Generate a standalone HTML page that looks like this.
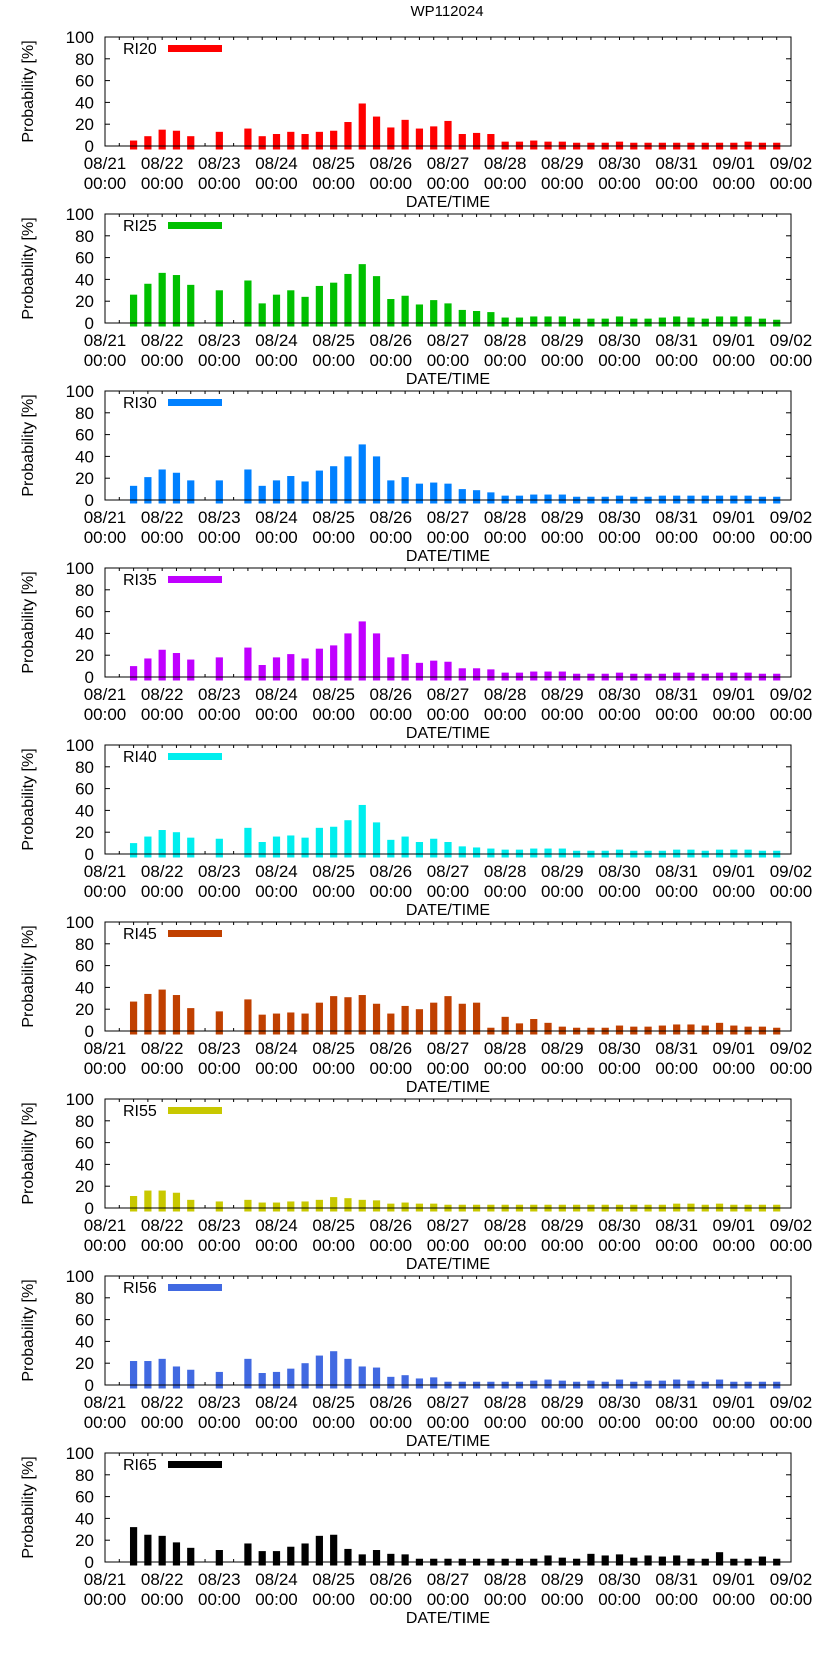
<!DOCTYPE html>
<html><head><meta charset="utf-8">
<style>
html,body{margin:0;padding:0;background:#fff;}
svg{display:block;font-family:"Liberation Sans",sans-serif;}
</style></head>
<body>
<svg id="chart" width="822" height="1653" viewBox="0 0 822 1653" xmlns="http://www.w3.org/2000/svg">
<text x="447" y="16" text-anchor="middle" font-size="15">WP112024</text>
</svg>
<script>
const dayLabels = ["08/21","08/22","08/23","08/24","08/25","08/26","08/27","08/28","08/29","08/30","08/31","09/01","09/02"];
const yTicks = [0,20,40,60,80,100];
const seriesNames = ["RI20","RI25","RI30","RI35","RI40","RI45","RI55","RI56","RI65"];
const seriesColors = ["#ff0000","#00c000","#0080ff","#c000ff","#00eeee","#c04000","#c8c800","#4169e1","#000000"];
const firstSlotDay = 0.5;
const slotStepDay = 0.25;
const ri20 = [5,9,15,14,9,null,13,null,16,9,11,13,11,13,14,22,39,27,17,24,16,18,23,11,12,11,4,4,5,4,4,3,3,3,4,3,3,3,3,3,3,3,3,4,3,3];
const ri25 = [26,36,46,44,35,null,30,null,39,18,26,30,24,34,37,45,54,43,22,25,17,21,18,12,11,10,5,5,6,6,6,4,4,4,6,4,4,5,6,5,4,6,6,6,4,3];
const ri30 = [13,21,28,25,18,null,18,null,28,13,18,22,17,27,31,40,51,40,18,21,15,16,15,10,9,7,4,4,5,5,5,3,3,3,4,3,3,4,4,4,4,4,4,4,3,3];
const ri35 = [10,17,25,22,16,null,18,null,27,11,18,21,17,26,29,40,51,40,18,21,13,15,14,8,8,7,4,4,5,5,5,3,3,3,4,3,3,3,4,4,3,4,4,4,3,3];
const ri40 = [10,16,22,20,15,null,14,null,24,11,16,17,15,24,25,31,45,29,13,16,11,14,11,7,6,5,4,4,5,5,5,3,3,3,4,3,3,3,4,4,3,4,4,4,3,3];
const ri45 = [27,34,38,33,21,null,18,null,29,15,16,17,16,26,32,31,33,25,16,23,20,26,32,25,26,3,13,7,11,7.5,4,3,3,3,5,4,4,5,6,6,5,7.5,5,4,4,3];
const ri55 = [11,16,16,14,7.5,null,6,null,7.5,5,5,6,6,7.5,10,9,7.5,7,4,5,4,4,3,3,3,3,3,3,3,3,3,3,3,3,3,3,3,3,4,4,3,4,3,3,3,3];
const ri56 = [22,22,24,17,14,null,12,null,24,11,12,15,20,27,31,24,17,16,7.5,9,6,7,3,3,3,3,3,3,4,5,4,3,4,3,5,3,4,4,5,4,3,5,3,3,3,3];
const ri65 = [32,25,24,18,13,null,11,null,17,10,10,14,17,24,25,12,7,11,7.5,7,3,3,3,3,3,3,3,3,3,6,4,3,7.5,6,7,4,6,5,6,3,3,9,3,3,5,3];
const allSeries = [ri20,ri25,ri30,ri35,ri40,ri45,ri55,ri56,ri65];

const NS = "http://www.w3.org/2000/svg";
const svg = document.getElementById("chart");
const X0 = 105, X1 = 791, PANEL_TOP = 37, PANEL_H = 109, PANEL_GAP = 177;
const nDays = dayLabels.length - 1;
function xScale(day){ return X0 + day*(X1-X0)/nDays; }
function mk(tag, attrs, parent){
  const el = document.createElementNS(NS, tag);
  for (const k in attrs) el.setAttribute(k, attrs[k]);
  (parent||svg).appendChild(el);
  return el;
}
allSeries.forEach(function(vals, k){
  const top = PANEL_TOP + k*PANEL_GAP, bot = top + PANEL_H;
  const yScale = v => bot - v*PANEL_H/100;
  const g = mk("g", {});
  
  
  // minor x ticks every 6h (under bars)
  for (let d=0; d<=nDays; d+=0.25){
    const x = xScale(d);
    mk("line", {x1:x, x2:x, y1:top, y2:top+3, stroke:"#000", "stroke-width":1}, g);
    mk("line", {x1:x, x2:x, y1:bot, y2:bot-3, stroke:"#000", "stroke-width":1}, g);
  }
  // bars
  vals.forEach(function(v, i){
    if (v === null) return;
    const cx = xScale(firstSlotDay + i*slotStepDay);
    const y = yScale(v);
    const r = mk("rect", {x:(cx-3.6).toFixed(2), y:y.toFixed(2), width:7.2, height:(bot+3.5-y).toFixed(2), fill:seriesColors[k]}, g);
    
    
  });
  // frame
  const fr = mk("rect", {x:X0, y:top, width:X1-X0, height:PANEL_H, fill:"none", stroke:"#000", "stroke-width":1}, g);
  
  
  // y ticks + labels
  yTicks.forEach(function(t){
    const y = yScale(t);
    mk("line", {x1:X0, x2:X0+5, y1:y, y2:y, stroke:"#000"}, g);
    mk("line", {x1:X1, x2:X1-5, y1:y, y2:y, stroke:"#000"}, g);
    const tl = mk("text", {x:94, y:y+6, "text-anchor":"end", "font-size":17}, g);
    tl.textContent = t;
    
    
  });
  // x labels
  dayLabels.forEach(function(lab, d){
    const x = xScale(d);
    const t1 = mk("text", {x:x, y:bot+23, "text-anchor":"middle", "font-size":17}, g);
    t1.textContent = lab;
    
    
    const t2 = mk("text", {x:x, y:bot+43, "text-anchor":"middle", "font-size":17}, g);
    t2.textContent = "00:00";
    
    
  });
  const xt = mk("text", {x:448, y:bot+61, "text-anchor":"middle", "font-size":16}, g);
  xt.textContent = "DATE/TIME";
  
  
  const cy = (top+bot)/2;
  const yt = mk("text", {x:0, y:0, "text-anchor":"middle", "font-size":16, transform:"translate(33,"+cy+") rotate(-90)"}, g);
  yt.textContent = "Probability [%]";
  
  
  // legend
  const lt = mk("text", {x:123, y:top+17, "font-size":16}, g);
  lt.textContent = seriesNames[k];
  
  
  const ls = mk("rect", {x:168, y:top+8, width:54, height:7, fill:seriesColors[k]}, g);
  
  
});
</script>
</body></html>
